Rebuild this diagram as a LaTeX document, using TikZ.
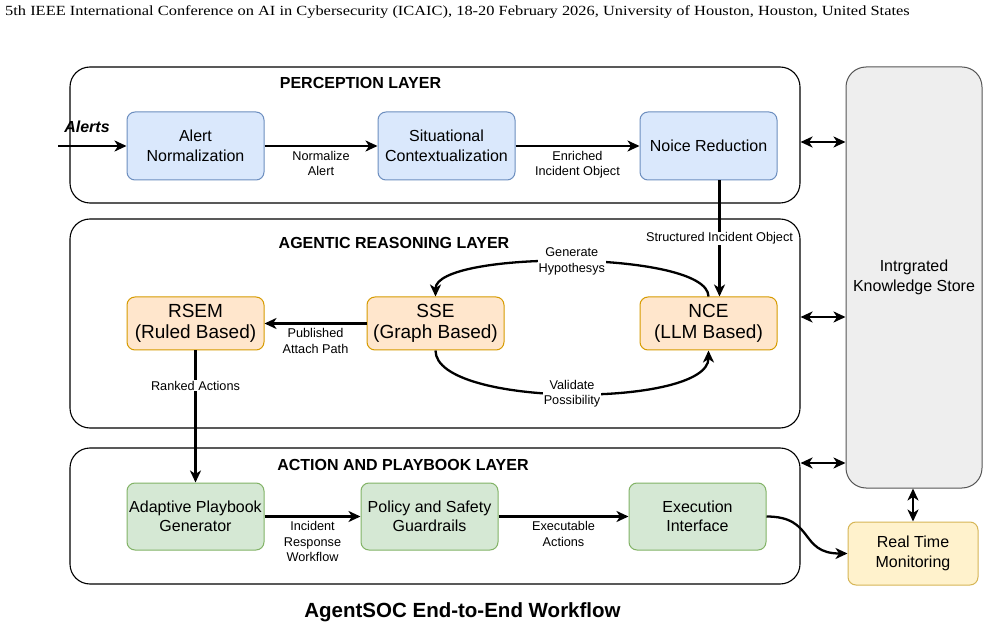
\documentclass[tikz,border=0pt]{standalone}
\usepackage{fontspec}
\setmainfont{Liberation Sans}
\newfontfamily\timesfont{Liberation Serif}
\usetikzlibrary{arrows.meta,calc}
\definecolor{bluef}{HTML}{DAE8FC}
\definecolor{blued}{HTML}{6C8EBF}
\definecolor{orangef}{HTML}{FFE6CC}
\definecolor{oranged}{HTML}{D79B00}
\definecolor{greenf}{HTML}{D5E8D4}
\definecolor{greend}{HTML}{82B366}
\definecolor{yellowf}{HTML}{FFF2CC}
\definecolor{yellowd}{HTML}{D6B656}
\definecolor{greyf}{HTML}{EEEEEE}
\definecolor{greyd}{HTML}{555555}
\tikzset{
  box/.style={rectangle, rounded corners=8pt, line width=1pt, align=center, inner sep=1pt,
    minimum width=137pt, font=\fontsize{16}{19.5}\selectfont},
  bluebox/.style={box, fill=bluef, draw=blued, minimum height=68pt},
  orangebox/.style={box, fill=orangef, draw=oranged, minimum height=53pt, font=\fontsize{19}{20.5}\selectfont},
  greenbox/.style={box, fill=greenf, draw=greend, minimum height=67pt},
  layer/.style={rectangle, rounded corners=20pt, draw=black, line width=1.1pt, minimum width=730pt},
  layertitle/.style={font=\fontsize{16}{18}\selectfont\bfseries},
  elabel/.style={font=\fontsize{12.7}{15.5}\selectfont, align=center, inner sep=1pt},
  arr/.style={line width=2.3pt, -{Stealth[length=12pt,width=11pt,inset=3.5pt]}},
  darr/.style={line width=2.3pt, {Stealth[length=12pt,width=11pt,inset=3.5pt]}-{Stealth[length=12pt,width=11pt,inset=3.5pt]}},
}
\begin{document}
\begin{tikzpicture}[x=1pt,y=-1pt]
\useasboundingbox (0,0) rectangle (989,631);
\fill[white] (0,0) rectangle (989,631);

% header
\node[anchor=west, inner sep=0pt, font=\timesfont\fontsize{14}{16}\selectfont] (hdr) at (5,12)
  {\scalebox{1.172}[1]{5th IEEE International Conference on AI in Cybersecurity (ICAIC), 18-20 February 2026, University of Houston, Houston, United States}};

% layers
\node[layer, minimum height=136pt] (perc) at (435,135) {};
\node[layer, minimum height=209pt] (reas) at (435,323.5) {};
\node[layer, minimum height=136pt] (act) at (435,516) {};
\node[layertitle] (perct) at (360.5,83) {PERCEPTION LAYER};
\node[layertitle] (reast) at (394,243) {AGENTIC REASONING LAYER};
\node[layertitle] (actt) at (403,465) {ACTION AND PLAYBOOK LAYER};

% knowledge store and monitoring
\node[rectangle, rounded corners=20pt, fill=greyf, draw=greyd, line width=1pt, minimum width=136pt,
  minimum height=421pt, align=center, font=\fontsize{16}{19.5}\selectfont] (ks) at (914,277.5)
  {Intrgrated\\Knowledge Store};
\node[box, fill=yellowf, draw=yellowd, minimum width=130pt, minimum height=63pt] (rtm) at (913,553.5)
  {Real Time\\Monitoring};

% perception nodes
\node[bluebox] (an) at (195.5,146) {Alert\\Normalization};
\node[bluebox] (sc) at (446.5,146) {Situational\\Contextualization};
\node[bluebox] (nr) at (708.5,146) {Noice Reduction};

% reasoning nodes
\node[orangebox] (rsem) at (195.5,323.5) {RSEM\\(Ruled Based)};
\node[orangebox] (sse) at (435.5,323.5) {SSE\\(Graph Based)};
\node[orangebox] (nce) at (708.5,323.5) {NCE\\(LLM Based)};

% action nodes
\node[greenbox] (apg) at (195.5,516.5) {Adaptive Playbook\\Generator};
\node[greenbox] (psg) at (429.5,516.5) {Policy and Safety\\Guardrails};
\node[greenbox] (exe) at (697.5,516.5) {Execution\\Interface};

% title
\node[font=\fontsize{20.5}{24}\selectfont\bfseries] (title) at (462.5,612) {AgentSOC End-to-End Workflow};

% alerts input
\coordinate (ain) at (58,146);
\node[font=\fontsize{16}{18}\selectfont\bfseries\itshape] (alerts) at (87,127) {Alerts};
\draw[arr] (ain) -- (an.west);

% perception arrows
\draw[arr] (an) -- node[elabel, below=3pt] {Normalize\\Alert} (sc);
\draw[arr] (sc) -- node[elabel, below=3pt] {Enriched\\Incident Object} (nr);
\draw[arr] ([xshift=11pt]nr.south) -- node[elabel, fill=white, pos=0.5] {Structured Incident Object} ([xshift=11pt]nce.north);

% reasoning arrows
\draw[arr] (nce.north) .. controls (708,250) and (435.5,250) .. node[elabel, fill=white, pos=0.5] {Generate\\Hypothesys} (sse.north);
\draw[arr] (sse.south) .. controls (435.5,408) and (708.5,408) .. node[elabel, fill=white, pos=0.5] {Validate\\Possibility} (nce.south);
\draw[arr] (sse) -- node[elabel, below=3pt] {Published\\Attach Path} (rsem);
\draw[arr] (rsem.south) -- node[elabel, fill=white, pos=0.265] {Ranked Actions} (apg.north);

% action arrows
\draw[arr] (apg) -- node[elabel, below=3pt] {Incident\\Response\\Workflow} (psg);
\draw[arr] (psg) -- node[elabel, below=3pt] {Executable\\Actions} (exe);
\draw[arr] (exe.east) to[out=0, in=180, looseness=1.4] (rtm.west);

% knowledge store links
\coordinate (y1) at (0,142);
\coordinate (y2) at (0,317);
\coordinate (y3) at (0,463);
\draw[darr] (perc.east |- y1) -- (ks.west |- y1);
\draw[darr] (reas.east |- y2) -- (ks.west |- y2);
\draw[darr] (act.east |- y3) -- (ks.west |- y3);
\draw[darr] (ks.south -| rtm.north) -- (rtm.north);
\end{tikzpicture}
\end{document}
